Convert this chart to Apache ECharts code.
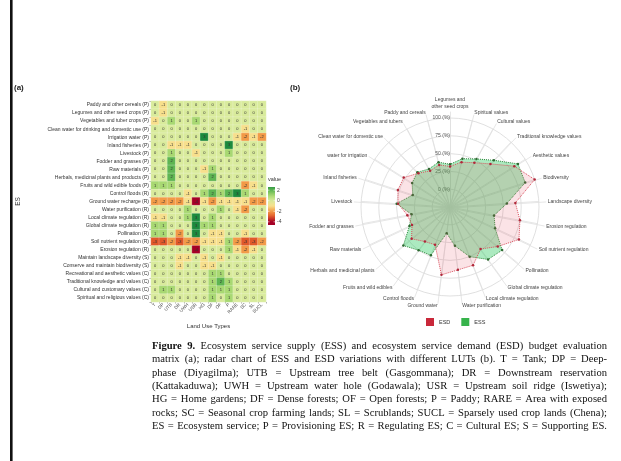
<!DOCTYPE html>
<html>
<head>
<meta charset="utf-8">
<script src="https://cdn.jsdelivr.net/npm/echarts@6/dist/echarts.min.js"></script>
<style>
  html, body { margin: 0; padding: 0; background: #ffffff; }
  #chart { width: 621px; height: 461px; }
</style>
</head>
<body>
<div id="chart"></div>
<script>
// ---------- (a) budget matrix ----------
const landUseTypes = ['T', 'DP', 'UTB', 'DR', 'UWH', 'USR', 'HG', 'DF', 'OF', 'P', 'RARE', 'SC', 'SL', 'SUCL'];

const services = [
  'Paddy and other cereals (P)',
  'Legumes and other seed crops (P)',
  'Vegetables and tuber crops (P)',
  'Clean water for drinking and domestic use (P)',
  'Irrigation water (P)',
  'Inland fisheries (P)',
  'Livestock (P)',
  'Fodder and grasses (P)',
  'Raw materials (P)',
  'Herbals, medicinal plants and products (P)',
  'Fruits and wild edible foods (P)',
  'Control floods (R)',
  'Ground water recharge (R)',
  'Water purification (R)',
  'Local climate regulation (R)',
  'Global climate regulation (R)',
  'Pollination (R)',
  'Soil nutrient regulation (R)',
  'Erosion regulation (R)',
  'Maintain landscape diversity (S)',
  'Conserve and maintain biodiversity (S)',
  'Recreational and aesthetic values (C)',
  'Traditional knowledge and values (C)',
  'Cultural and customary values (C)',
  'Spiritual and religious values (C)'
];

// one row per service, one column per land use type
const budget = [
  [ 0, -1,  0,  0,  0,  0,  0,  0,  0,  0,  0,  0,  0,  0],
  [ 0, -1,  0,  0,  0,  0,  0,  0,  0,  0,  0,  0,  0,  0],
  [-1,  0,  1,  0,  0,  1,  0,  0,  0,  0,  0,  0,  0,  0],
  [ 0,  0,  0,  0,  0,  0,  0,  0,  0,  0,  0, -1,  0,  0],
  [ 0,  0,  0,  0,  0,  0,  3,  0,  0,  0, -1, -2, -1, -2],
  [ 0,  0, -1, -1, -1,  0,  0,  0,  0,  3,  0,  0,  0,  0],
  [ 0,  0,  1,  0,  0, -1,  0,  0,  0,  1,  0,  0,  0,  0],
  [ 0,  0,  2,  0,  0,  0,  0,  0,  0,  0,  0,  0,  0,  0],
  [ 0,  0,  2,  0,  0,  0, -1,  1,  0,  0,  0,  0,  0,  0],
  [ 0,  0,  2,  0,  0,  0,  0,  2,  0,  0,  0,  0,  0,  0],
  [ 1,  1,  1,  0,  0,  0,  0,  0,  0,  0,  0, -2, -1,  0],
  [ 0,  0,  0,  0, -1,  0,  1,  2,  1,  2,  3,  1,  0,  0],
  [-2, -2, -2, -2, -1, -4, -1, -2, -1, -1, -1, -1, -2, -2],
  [ 0,  0,  0,  0,  1,  0,  0,  0,  1,  0, -1, -2,  0,  0],
  [-1, -1,  0,  0,  1,  3,  0,  1,  0,  0,  0,  0,  0,  0],
  [ 1,  1,  0,  0,  0,  3,  1,  1,  0,  0,  0,  0,  0,  0],
  [ 1,  1,  0, -2,  0,  3,  0, -1, -1,  0,  0, -1,  0,  0],
  [-3, -3, -2, -3, -2, -2, -1, -1, -1,  1, -2, -3, -3, -2],
  [ 0,  0,  0,  0,  0, -4,  0,  0,  0,  1, -1, -2, -1,  0],
  [ 0,  0,  0, -1, -1,  0, -1,  0, -1,  0,  0,  0,  0,  0],
  [ 0,  0,  0, -1,  0,  0, -1, -1,  0,  0,  0,  0,  0,  0],
  [ 0,  0,  0,  0,  0,  0,  0,  1,  1,  0,  0,  0,  0,  0],
  [ 0,  0,  0,  0,  0,  0,  0,  1,  2,  1,  0,  0,  0,  0],
  [ 0,  1,  1,  0,  0,  0,  0,  1,  1,  1,  0,  0,  0,  0],
  [ 0,  0,  0,  0,  0,  0,  0,  1,  0,  1,  0,  0,  0,  0]
];

const valueColors = ['#a50026', '#e0582a', '#f29a47', '#f7df8c', '#d9eb9c', '#a8d872', '#5eb552', '#1c8a3d'];
const valueMin = -4;
const valueMax = 3;
const legendTicks = [2, 0, -2, -4];
const legendTop = 2.6;
const legendBottom = -4.6;

// ---------- (b) radar ----------
const radarAxes = [
  'Legumes and\nother seed crops', 'Spiritual values', 'Cultural values', 'Traditional knowledge values',
  'Aesthetic values', 'Biodiversity', 'Landscape diversity', 'Erosion regulation',
  'Soil nutrient regulation', 'Pollination', 'Global climate regulation', 'Local climate regulation',
  'Water purification', 'Ground water', 'Control floods', 'Fruits and wild edibles',
  'Herbals and medicinal plants', 'Raw materials', 'Fodder and grasses', 'Livestock',
  'Inland fisheries', 'water for irrigation', 'Clean water for domestic use', 'Vegetables and tubers',
  'Paddy and cereals'
];
const essValues = [35, 45, 52, 65, 88, 86, 55, 38, 45, 70, 66, 50, 30, 12, 48, 50, 60, 38, 30, 50, 30, 38, 42, 36, 40];
const esdValues = [32, 40, 46, 58, 82, 100, 67, 75, 82, 62, 48, 63, 64, 71, 32, 35, 45, 34, 36, 48, 52, 52, 40, 33, 36];
const gridTicks = [0, 25, 50, 75, 100];

// ---------- caption ----------
const captionLines = [
  'Figure 9. Ecosystem service supply (ESS) and ecosystem service demand (ESD) budget evaluation',
  'matrix (a); radar chart of ESS and ESD variations with different LUTs (b). T = Tank; DP = Deep-',
  'phase (Diyagilma); UTB = Upstream tree belt (Gasgommana); DR = Downstream reservation',
  '(Kattakaduwa); UWH = Upstream water hole (Godawala); USR = Upstream soil ridge (Iswetiya);',
  'HG = Home gardens; DF = Dense forests; OF = Open forests; P = Paddy; RARE = Area with exposed',
  'rocks; SC = Seasonal crop farming lands; SL = Scrublands; SUCL = Sparsely used crop lands (Chena);',
  'ES = Ecosystem service; P = Provisioning ES; R = Regulating ES; C = Cultural ES; S = Supporting ES.'
];
const captionBoldWords = 2;

// ---------------------------------------------------------------
const SANS = '"Liberation Sans", Arial, sans-serif';
const SERIF = '"Liberation Serif", "DejaVu Serif", serif';

const heatData = [];
budget.forEach((row, r) => row.forEach((v, c) => heatData.push([c, r, v])));

// colour of a value on the matrix scale (used for the colour bar)
function hex2rgb(h) { return [1, 3, 5].map(i => parseInt(h.substr(i, 2), 16)); }
function colorAt(v) {
  const t = Math.max(0, Math.min(1, (v - valueMin) / (valueMax - valueMin))) * (valueColors.length - 1);
  const i = Math.min(Math.floor(t), valueColors.length - 2);
  const f = t - i;
  const a = hex2rgb(valueColors[i]), b = hex2rgb(valueColors[i + 1]);
  return 'rgb(' + a.map((x, k) => Math.round(x + (b[k] - x) * f)).join(',') + ')';
}

// colour bar geometry
const bar = { x: 268, y: 187, w: 7, h: 38 };
const barY = v => bar.y + (legendTop - v) / (legendTop - legendBottom) * bar.h;
const barStops = [];
for (let k = 0; k <= 12; k++) {
  const v = legendTop - (legendTop - legendBottom) * k / 12;
  barStops.push({ offset: k / 12, color: colorAt(v) });
}

// radar: the library lays indicators counter-clockwise, so mirror the order
const radarOrder = [0].concat(Array.from({ length: radarAxes.length - 1 }, (_, i) => radarAxes.length - 1 - i));

const gridIndicators = radarOrder.map(i => {
  const ind = { name: radarAxes[i], min: -25, max: 100 };
  if (i === 0) {
    ind.axisLabel = {
      show: true, fontSize: 5, color: '#555', fontFamily: SANS, margin: 0,
      formatter: v => (gridTicks.indexOf(v) >= 0 ? v + ' (%)' : '')
    };
  }
  return ind;
});
const nameIndicators = radarOrder.map(i => ({ name: radarAxes[i], min: 0, max: 1 }));

// justified caption
function captionElements() {
  const ctx = document.createElement('canvas').getContext('2d');
  const left = 152, right = 607, top0 = 346, step = 13.4;
  let size = 10.6;
  const fontOf = (bold, s) => (bold ? 'bold ' : '') + s + 'px ' + SERIF;
  const measure = (s) => captionLines.map((line, li) => {
    const words = line.split(' ');
    const widths = words.map((w, wi) => {
      ctx.font = fontOf(li === 0 && wi < captionBoldWords, s);
      return ctx.measureText(w).width;
    });
    const total = widths.reduce((a, b) => a + b, 0);
    return { words, widths, gap: (right - left - total) / (words.length - 1) };
  });
  let lines = measure(size);
  while (lines.some(l => l.gap < 0.24 * size) && size > 7) {
    size -= 0.1;
    lines = measure(size);
  }
  const out = [];
  lines.forEach((l, li) => {
    let x = left;
    l.words.forEach((w, wi) => {
      const bold = li === 0 && wi < captionBoldWords;
      out.push({
        type: 'text', x: x, y: top0 + li * step, silent: true,
        style: {
          text: w, fontFamily: SERIF, fontSize: size, fontWeight: bold ? 'bold' : 'normal',
          fill: '#111', verticalAlign: 'middle'
        }
      });
      x += l.widths[wi] + l.gap;
    });
  });
  return out;
}

const graphics = [
  { type: 'rect', shape: { x: 10, y: 0, width: 2.6, height: 461 }, style: { fill: '#111' }, silent: true },
  { type: 'text', x: 14, y: 88, style: { text: '(a)', fontFamily: SANS, fontSize: 8, fontWeight: 'bold', fill: '#222', verticalAlign: 'middle' } },
  { type: 'text', x: 290, y: 88, style: { text: '(b)', fontFamily: SANS, fontSize: 8, fontWeight: 'bold', fill: '#222', verticalAlign: 'middle' } },
  { type: 'text', x: 268, y: 179, style: { text: 'value', fontFamily: SANS, fontSize: 5.5, fill: '#333', verticalAlign: 'middle' } },
  {
    type: 'rect', shape: { x: bar.x, y: bar.y, width: bar.w, height: bar.h },
    style: { fill: { type: 'linear', x: 0, y: 0, x2: 0, y2: 1, colorStops: barStops } }
  }
];
legendTicks.forEach(t => {
  graphics.push({ type: 'line', shape: { x1: bar.x, y1: barY(t), x2: bar.x + 1.5, y2: barY(t) }, style: { stroke: '#fff', lineWidth: 0.6 } });
  graphics.push({ type: 'line', shape: { x1: bar.x + bar.w - 1.5, y1: barY(t), x2: bar.x + bar.w, y2: barY(t) }, style: { stroke: '#fff', lineWidth: 0.6 } });
  graphics.push({ type: 'text', x: bar.x + bar.w + 2, y: barY(t), style: { text: String(t), fontFamily: SANS, fontSize: 5, fill: '#444', verticalAlign: 'middle' } });
});
captionElements().forEach(e => graphics.push(e));

const option = {
  backgroundColor: '#ffffff',
  animation: false,
  grid: { left: 151, top: 101, width: 115, height: 201, containLabel: false },
  xAxis: {
    type: 'category', data: landUseTypes, position: 'bottom',
    name: 'Land Use Types', nameLocation: 'middle', nameGap: 21,
    nameTextStyle: { fontFamily: SANS, fontSize: 6, color: '#333' },
    axisLine: { show: false },
    axisTick: { show: true, length: 1.5, lineStyle: { color: '#555', width: 0.5 } },
    axisLabel: { rotate: 45, fontSize: 4.5, margin: 2, color: '#444', fontFamily: SANS, interval: 0 },
    splitLine: { show: false }
  },
  yAxis: {
    type: 'category', data: services, inverse: true,
    name: 'ES', nameLocation: 'middle', nameGap: 129, nameRotate: 90,
    nameTextStyle: { fontFamily: SANS, fontSize: 6.5, color: '#333' },
    axisLine: { show: false },
    axisTick: { show: true, length: 1.5, lineStyle: { color: '#555', width: 0.5 } },
    axisLabel: { fontSize: 5, margin: 2, color: '#333', fontFamily: SANS, interval: 0 },
    splitLine: { show: false }
  },
  visualMap: {
    type: 'continuous', show: false, seriesIndex: 0, dimension: 2,
    min: valueMin, max: valueMax, inRange: { color: valueColors }
  },
  radar: [
    {
      center: [450, 207], radius: 89, startAngle: 90, shape: 'circle', splitNumber: 5,
      indicator: gridIndicators,
      axisName: { show: false },
      axisLabel: { show: false },
      axisLine: { lineStyle: { color: '#e0e0e0', width: 0.8 } },
      splitLine: { lineStyle: { color: '#d8d8d8', width: 0.8 } },
      splitArea: { show: false },
      axisTick: { show: false }
    },
    {
      center: [450, 208], radius: 96, startAngle: 90, shape: 'circle', splitNumber: 1,
      indicator: nameIndicators,
      nameGap: 2,
      axisName: { color: '#444', fontSize: 5, fontFamily: SANS, lineHeight: 7 },
      axisLine: { lineStyle: { color: '#e0e0e0', width: 0.8 } },
      splitLine: { show: false },
      splitArea: { show: false },
      axisLabel: { show: false },
      axisTick: { show: false }
    }
  ],
  legend: {
    left: 421, top: 313, orient: 'horizontal', itemWidth: 8, itemHeight: 8, itemGap: 11, icon: 'rect',
    textStyle: { fontFamily: SANS, fontSize: 5.5, color: '#333' },
    data: [
      { name: 'ESD', itemStyle: { color: '#c9283a', borderWidth: 0 } },
      { name: 'ESS', itemStyle: { color: '#36b34b', borderWidth: 0 } }
    ]
  },
  series: [
    {
      type: 'heatmap', xAxisIndex: 0, yAxisIndex: 0, data: heatData,
      label: { show: true, fontSize: 4, color: '#333', fontFamily: SANS, formatter: p => String(p.value[2]) },
      itemStyle: { borderColor: 'rgba(255,255,255,0.55)', borderWidth: 0.4 },
      emphasis: { disabled: true }
    },
    {
      type: 'radar', radarIndex: 0, name: 'ESS', z: 2,
      symbol: 'circle', symbolSize: 2.5,
      data: [{ name: 'ESS', value: radarOrder.map(i => essValues[i]) }],
      lineStyle: { type: 'dotted', color: '#2f7a35', width: 1 },
      areaStyle: { color: 'rgba(40,200,90,0.55)' },
      itemStyle: { color: '#2e6b32' }
    },
    {
      type: 'radar', radarIndex: 0, name: 'ESD', z: 3,
      symbol: 'circle', symbolSize: 2.5,
      data: [{ name: 'ESD', value: radarOrder.map(i => esdValues[i]) }],
      lineStyle: { type: 'dotted', color: '#d9505e', width: 1 },
      areaStyle: { color: 'rgba(230,70,90,0.22)' },
      itemStyle: { color: '#b0283a' }
    }
  ],
  graphic: graphics
};

const chart = echarts.init(document.getElementById('chart'), null, { renderer: 'canvas' });
chart.setOption(option);
</script>
</body>
</html>
